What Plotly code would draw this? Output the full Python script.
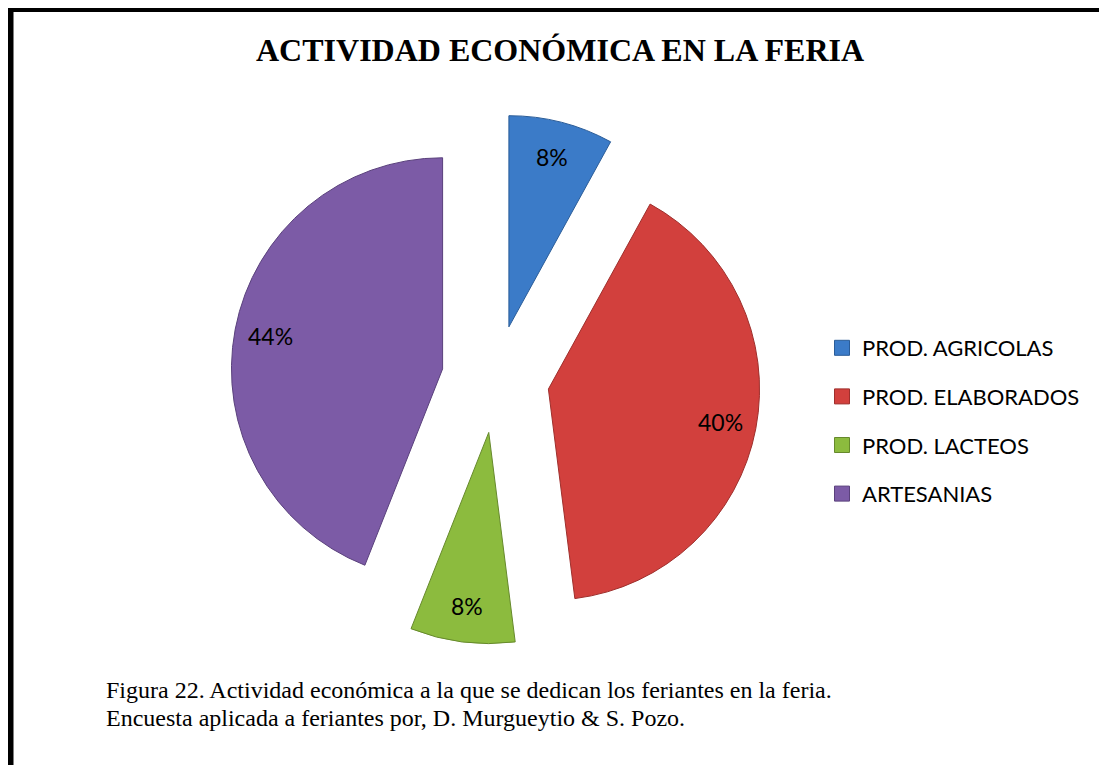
import math
import plotly.graph_objects as go

# ---- data ----
categories = ["PROD. AGRICOLAS", "PROD. ELABORADOS", "PROD. LACTEOS", "ARTESANIAS"]
values = [8, 40, 8, 44]
colors = ["#3B7BC8", "#D2403D", "#8CBB3E", "#7C5BA6"]
edge_colors = ["#2A5C98", "#9E2F2C", "#66892C", "#5A417C"]

title_text = "ACTIVIDAD ECONÓMICA EN LA FERIA"
caption_lines = [
    "Figura 22. Actividad económica a la que se dedican los feriantes en la feria.",
    "Encuesta aplicada a feriantes por, D. Murgueytio &amp; S. Pozo.",
]

# page is 1107x765; the HTML body adds an 8px margin
OFF = 8
W, H = 1107 - OFF, 765 - OFF


def px(x):
    return (x - OFF) / W


def py(y):
    return 1 - (y - OFF) / H


PULL = 0.255
dom_x = (230.5, 760.5)   # pie box in page pixels
dom_y = (114, 644)

fig = go.Figure()

fig.add_trace(go.Pie(
    labels=categories,
    values=values,
    sort=False,
    direction="clockwise",
    rotation=0,
    pull=[PULL] * len(values),
    marker=dict(colors=colors, line=dict(color=edge_colors, width=1)),
    textinfo="none",
    domain=dict(x=[px(dom_x[0]), px(dom_x[1])], y=[py(dom_y[1]), py(dom_y[0])]),
    showlegend=False,
    hoverinfo="label+percent",
))

# percentage labels placed near the outer part of each slice (Excel style)
cx = (dom_x[0] + dom_x[1]) / 2
cy = (dom_y[0] + dom_y[1]) / 2
r = (dom_x[1] - dom_x[0]) / (2 + 2 * PULL)
total = sum(values)
annotations = []
cum = 0.0
for v in values:
    mid = (cum + v / 2) / total * 2 * math.pi
    cum += v
    d = PULL * r + 0.83 * r
    lx = cx + d * math.sin(mid)
    ly = cy - d * math.cos(mid)
    annotations.append(dict(
        text=f"{round(100 * v / total)}%", x=px(lx), y=py(ly),
        xref="paper", yref="paper", xanchor="center", yanchor="middle",
        showarrow=False, font=dict(family="Lato", size=23, color="black")))

# legend entries (one per category)
for i, (cat, col) in enumerate(zip(categories, colors)):
    fig.add_trace(go.Scatter(
        x=[None], y=[None], mode="markers", name=cat,
        legendgroup=f"g{i}",
        marker=dict(symbol="square", size=15, color=col,
                    line=dict(color=edge_colors[i], width=1)),
        showlegend=True,
    ))

annotations += [
    dict(text=f"<b>{title_text}</b>", x=px(560), y=py(50),
         xref="paper", yref="paper", xanchor="center", yanchor="middle",
         showarrow=False,
         font=dict(family="Liberation Serif", size=32, color="black")),
    dict(text=caption_lines[0], x=px(104), y=py(690),
         xref="paper", yref="paper", xanchor="left", yanchor="middle",
         align="left", showarrow=False,
         font=dict(family="Liberation Serif", size=24, color="black")),
    dict(text=caption_lines[1], x=px(104), y=py(718),
         xref="paper", yref="paper", xanchor="left", yanchor="middle",
         align="left", showarrow=False,
         font=dict(family="Liberation Serif", size=24, color="black")),
]

fig.update_layout(
    width=W, height=H,
    margin=dict(l=0, r=0, t=0, b=0),
    paper_bgcolor="white",
    plot_bgcolor="white",
    xaxis=dict(visible=False),
    yaxis=dict(visible=False),
    legend=dict(
        x=px(822), y=py(327), xanchor="left", yanchor="top",
        font=dict(family="Lato", size=22, color="black"),
        tracegroupgap=17,
        bgcolor="rgba(0,0,0,0)",
    ),
    annotations=annotations,
    shapes=[
        dict(type="line", xref="paper", yref="paper",
             x0=px(7.5), x1=1.05, y0=py(9), y1=py(9),
             line=dict(color="black", width=6)),
        dict(type="line", xref="paper", yref="paper",
             x0=px(10.5), x1=px(10.5), y0=py(6), y1=-0.05,
             line=dict(color="black", width=6)),
    ],
)

fig.write_html("out.html")
